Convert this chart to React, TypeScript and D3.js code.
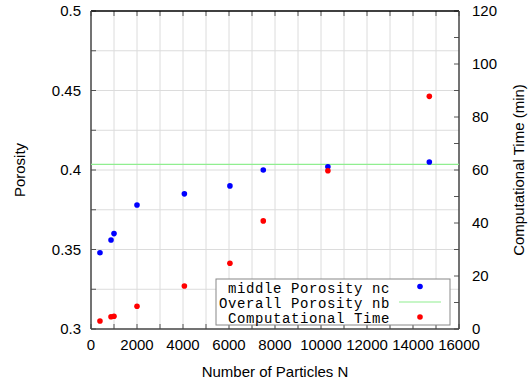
import React from "react";
import * as d3 from "d3";

const particlesN = [390, 870, 1000, 2000, 4060, 6040, 7490, 10300, 14710];
const middlePorosity = [0.348, 0.356, 0.36, 0.378, 0.385, 0.39, 0.4, 0.402, 0.405];
const timeN = [390, 870, 1000, 2000, 4060, 6040, 7490, 10300, 14710];
const compTime = [3.0, 4.6, 4.8, 8.6, 16.2, 24.8, 40.8, 59.7, 87.8];
const overallPorosity = 0.4035;
const xTicks = [0, 2000, 4000, 6000, 8000, 10000, 12000, 14000, 16000];
const yTicks = [0.3, 0.35, 0.4, 0.45, 0.5];
const y2Ticks = [0, 20, 40, 60, 80, 100, 120];
const legendLabels = ["middle Porosity nc", "Overall Porosity nb", "Computational Time"];

const W = 528, H = 383;
const L = 91, R = 459, T = 11, B = 329;

export default function App() {
  const x = d3.scaleLinear().domain([0, 16000]).range([L, R]);
  const y = d3.scaleLinear().domain([0.3, 0.5]).range([B, T]);
  const y2 = d3.scaleLinear().domain([0, 120]).range([B, T]);
  const xGrid = d3.range(1000, 16000, 1000);
  const yGrid = d3.range(1, 8).map((i) => 0.3 + i * 0.025);
  const sans = "Liberation Sans, Arial, sans-serif";
  const mono = "Liberation Mono, Courier New, monospace";
  const tick = 5;
  return (
    <svg width={W} height={H} style={{ position: "absolute", left: 0, top: 0, background: "#fff" }}>
      {xGrid.map((v) => (
        <line key={"gx" + v} x1={x(v)} x2={x(v)} y1={T} y2={B} stroke="#dcdcdc" strokeWidth={1} />
      ))}
      {yGrid.map((v) => (
        <line key={"gy" + v} x1={L} x2={R} y1={y(v)} y2={y(v)} stroke="#dcdcdc" strokeWidth={1} />
      ))}
      {d3.range(0, 16001, 1000).map((v) => (
        <g key={"tx" + v} stroke="#555" strokeWidth={1}>
          <line x1={x(v)} x2={x(v)} y1={B} y2={B - tick} />
          <line x1={x(v)} x2={x(v)} y1={T} y2={T + tick} />
        </g>
      ))}
      {d3.range(0, 9).map((i) => (
        <line key={"ty" + i} x1={L} x2={L + tick} y1={y(0.3 + i * 0.025)} y2={y(0.3 + i * 0.025)} stroke="#555" />
      ))}
      {d3.range(0, 13).map((i) => (
        <line key={"ty2" + i} x1={R} x2={R - tick} y1={y2(i * 10)} y2={y2(i * 10)} stroke="#555" />
      ))}
      <line x1={L} x2={R} y1={T} y2={T} stroke="#000" strokeWidth={1.5} />
      <line x1={L} x2={R} y1={B} y2={B} stroke="#444" strokeWidth={1.5} />
      <line x1={L} x2={L} y1={T} y2={B} stroke="#444" strokeWidth={1.5} />
      <line x1={R} x2={R} y1={T} y2={B} stroke="#444" strokeWidth={1.5} />
      <line x1={L} x2={R} y1={y(overallPorosity)} y2={y(overallPorosity)} stroke="#90ee90" strokeWidth={1.2} />
      {particlesN.map((n, i) => (
        <circle key={"b" + i} cx={x(n)} cy={y(middlePorosity[i])} r={2.8} fill="#0000ff" />
      ))}
      {timeN.map((n, i) => (
        <circle key={"r" + i} cx={x(n)} cy={y2(compTime[i])} r={2.8} fill="#ff0000" />
      ))}
      {xTicks.map((v) => (
        <text key={"lx" + v} x={x(v)} y={350} textAnchor="middle" fontFamily={sans} fontSize={15} fill="#000">
          {v}
        </text>
      ))}
      {yTicks.map((v) => (
        <text key={"ly" + v} x={81} y={y(v) + 5} textAnchor="end" fontFamily={sans} fontSize={15} fill="#000">
          {d3.format("")(v)}
        </text>
      ))}
      {y2Ticks.map((v) => (
        <text key={"ly2" + v} x={472} y={y2(v) + 5} textAnchor="start" fontFamily={sans} fontSize={15} fill="#000">
          {v}
        </text>
      ))}
      <text x={(L + R) / 2} y={377} textAnchor="middle" fontFamily={sans} fontSize={15} fill="#000">
        Number of Particles N
      </text>
      <text transform={`translate(25,170) rotate(-90)`} textAnchor="middle" fontFamily={sans} fontSize={15} fill="#000">
        Porosity
      </text>
      <text transform={`translate(524,170) rotate(-90)`} textAnchor="middle" fontFamily={sans} fontSize={15} fill="#000">
        Computational Time (min)
      </text>
      <rect x={216} y={279} width={234} height={46} fill="#fff" stroke="#888" strokeWidth={1} />
      {legendLabels.map((t, i) => (
        <text key={"lg" + i} x={390} y={288 + i * 15 + 4.5} textAnchor="end" fontFamily={mono} fontSize={14} letterSpacing={0.6} fill="#000">
          {t}
        </text>
      ))}
      <circle cx={420} cy={286.5} r={2.8} fill="#0000ff" />
      <line x1={399} x2={441} y1={302} y2={302} stroke="#90ee90" strokeWidth={1.2} />
      <circle cx={420} cy={317} r={2.8} fill="#ff0000" />
    </svg>
  );
}
